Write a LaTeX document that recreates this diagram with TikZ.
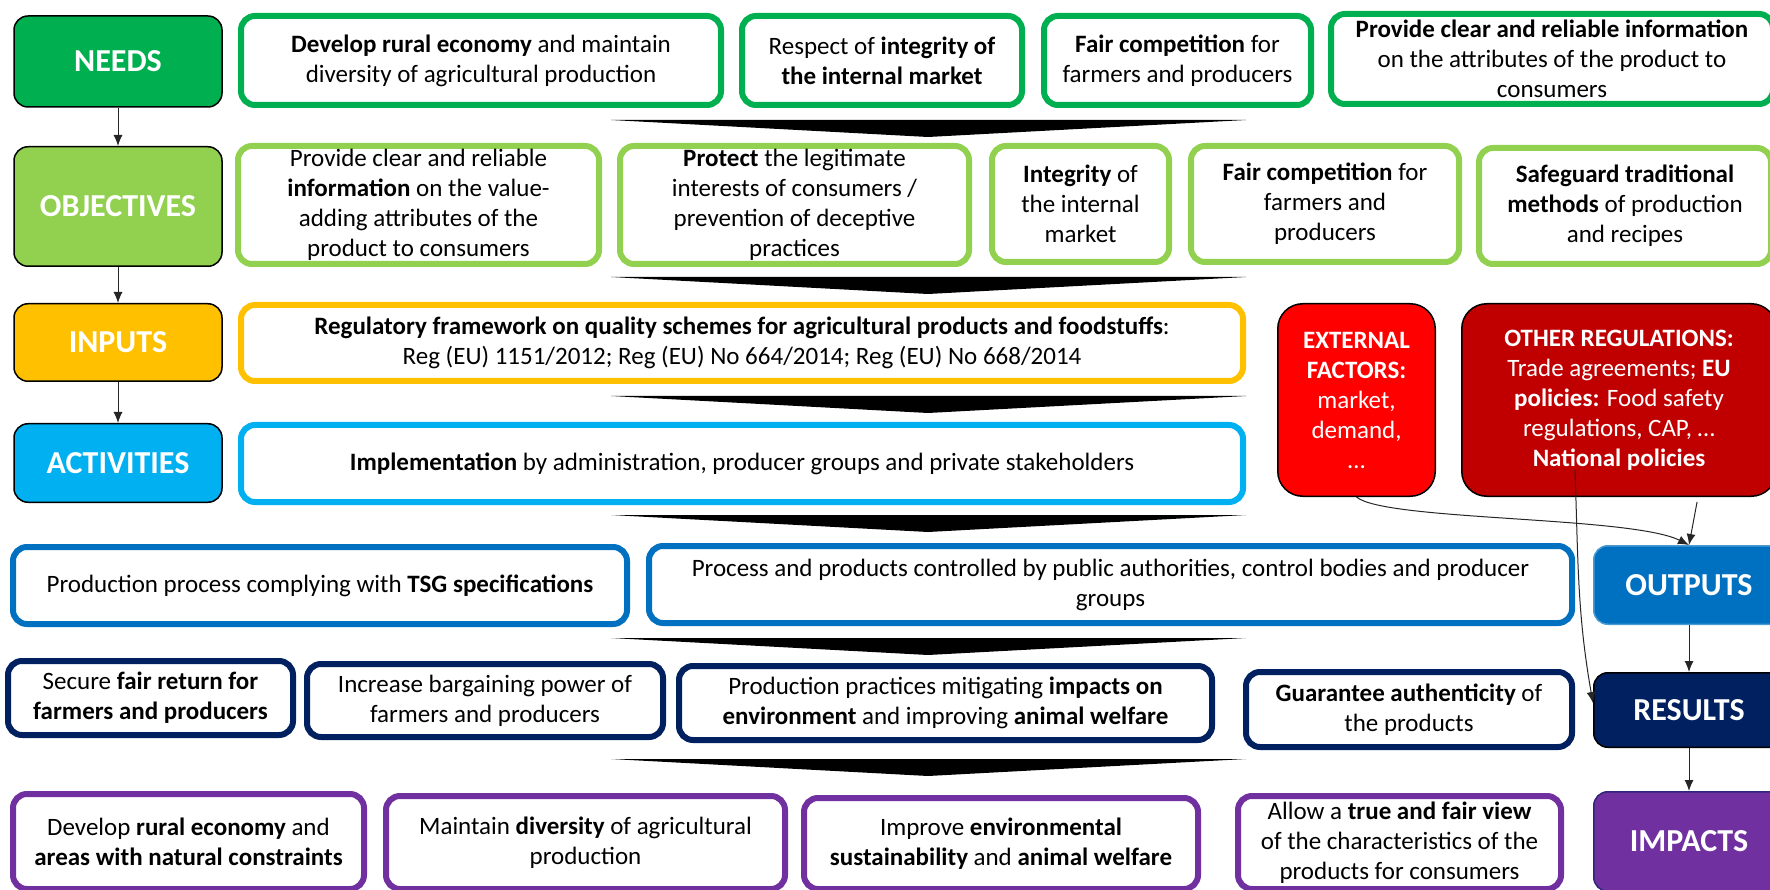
\documentclass[tikz,border=0pt]{standalone}
\usepackage{fontspec}
\setmainfont{Carlito}
\usepackage{tikz}
\usetikzlibrary{arrows.meta}

\definecolor{needsgreen}{HTML}{00B050}
\definecolor{objgreen}{HTML}{92D050}
\definecolor{inputgold}{HTML}{FFC000}
\definecolor{actblue}{HTML}{00B0F0}
\definecolor{outblue}{HTML}{0070C0}
\definecolor{resnavy}{HTML}{002060}
\definecolor{imppurple}{HTML}{7030A0}
\definecolor{extred}{HTML}{FF0000}
\definecolor{regred}{HTML}{C00000}

\newcommand{\bodyfont}{\fontsize{25}{30}\selectfont}
\newcommand{\stagefont}{\fontsize{32}{38}\selectfont\bfseries}

\tikzset{
  stage/.style={fill=#1, draw=black, line width=1.5pt, rounded corners=14pt,
    text=white, font=\stagefont, inner sep=0pt},
  item/.style={fill=white, draw=#1, line width=6pt, rounded corners=14pt,
    align=center, font=\bodyfont, inner sep=0pt},
  factor/.style={fill=#1, draw=black, line width=1.5pt, rounded corners=25pt,
    text=white, align=center, font=\bodyfont, inner sep=0pt},
  link/.style={-{Latex[length=11pt,width=9pt]}, line width=1pt, draw=black!85},
  wedge/.style={fill=black}
}

\begin{document}
\begin{tikzpicture}[x=1pt, y=1pt]
    \useasboundingbox (0,0) rectangle (1770,-890);

    %Needs
    \node[stage=needsgreen, minimum width=208pt, minimum height=91pt] (needs) at (118,-61.5) {NEEDS};
    \node[item=needsgreen, minimum width=480pt, minimum height=89pt] (n1) at (481,-60.5)
        {\textbf{Develop rural economy} and maintain\\ diversity of agricultural production};
    \node[item=needsgreen, minimum width=280pt, minimum height=89pt] (n2) at (882,-60.5)
        {Respect of \textbf{integrity of}\\ \textbf{the internal market}};
    \node[item=needsgreen, minimum width=267pt, minimum height=89pt] (n3) at (1177.5,-60.5)
        {\textbf{Fair competition} for\\ farmers and producers};
    \node[item=needsgreen, minimum width=442pt, minimum height=90pt] (n4) at (1552,-59)
        {\textbf{Provide clear and reliable information}\\ on the attributes of the product to\\ consumers};

    %Objectives
    \node[stage=objgreen, minimum width=208pt, minimum height=119.5pt] (obj) at (118,-206.5) {OBJECTIVES};
    \node[item=objgreen, minimum width=361pt, minimum height=118pt] (o1) at (418.5,-205)
        {Provide clear and reliable\\ \textbf{information} on the value-\\ adding attributes of the\\ product to consumers};
    \node[item=objgreen, minimum width=349pt, minimum height=118pt] (o2) at (794.5,-205)
        {\textbf{Protect} the legitimate\\ interests of consumers /\\ prevention of deceptive\\ practices};
    \node[item=objgreen, minimum width=177pt, minimum height=116pt] (o3) at (1080.5,-204)
        {\textbf{Integrity} of\\ the internal\\ market};
    \node[item=objgreen, minimum width=268pt, minimum height=116pt] (o4) at (1325,-204)
        {\textbf{Fair competition} for\\ farmers and\\ producers};
    \node[item=objgreen, minimum width=292pt, minimum height=116pt] (o5) at (1625,-206)
        {\textbf{Safeguard traditional}\\ \textbf{methods} of production\\ and recipes};

    %Inputs and activities
    \node[stage=inputgold, minimum width=208pt, minimum height=77.5pt] (inputs) at (118,-342.5) {INPUTS};
    \node[item=inputgold, minimum width=1002pt, minimum height=76pt] (i1) at (742,-343)
        {\textbf{Regulatory framework on quality schemes for agricultural products and foodstuffs}:\\
         Reg (EU) 1151/2012; Reg (EU) No 664/2014; Reg (EU) No 668/2014};
    \node[stage=actblue, minimum width=208pt, minimum height=78.5pt] (act) at (118,-463) {ACTIVITIES};
    \node[item=actblue, minimum width=1002pt, minimum height=77pt] (a1) at (742,-463.5)
        {\textbf{Implementation} by administration, producer groups and private stakeholders};

    %Context
    \node[factor=extred, minimum width=157.5pt, minimum height=192.5pt] (ext) at (1356.5,-400)
        {\textbf{EXTERNAL}\\ \textbf{FACTORS:}\\ market,\\ demand,\\ \dots};
    \node[factor=regred, minimum width=314.5pt, minimum height=192.5pt] (oth) at (1619,-400)
        {\textbf{OTHER REGULATIONS:}\\ Trade agreements; \textbf{EU}\\ \textbf{policies:} Food safety\\ regulations, CAP, \dots\\ \textbf{National policies}};

    %Outputs
    \node[item=outblue, minimum width=614pt, minimum height=77pt] (p1) at (320,-585.5)
        {Production process complying with \textbf{TSG specifications}};
    \node[item=outblue, minimum width=923pt, minimum height=77pt] (p2) at (1110.5,-584.5)
        {Process and products controlled by public authorities, control bodies and producer\\ groups};
    \node[stage=outblue, draw=outblue!70!white, minimum width=190.5pt, minimum height=78.5pt] (outputs) at (1689,-585) {OUTPUTS};

    %Results
    \node[item=resnavy, minimum width=285pt, minimum height=74pt] (r1) at (150.5,-698)
        {Secure \textbf{fair return for}\\ \textbf{farmers and producers}};
    \node[item=resnavy, minimum width=356pt, minimum height=73pt] (r2) at (485,-700.5)
        {Increase bargaining power of\\ farmers and producers};
    \node[item=resnavy, minimum width=533pt, minimum height=74pt] (r3) at (945.5,-703)
        {Production practices mitigating \textbf{impacts on}\\ \textbf{environment} and improving \textbf{animal welfare}};
    \node[item=resnavy, minimum width=326pt, minimum height=75pt] (r4) at (1409,-709.5)
        {\textbf{Guarantee authenticity} of\\ the products};
    \node[stage=resnavy, minimum width=190.5pt, minimum height=74.5pt] (results) at (1689,-710) {RESULTS};

    %Impacts
    \node[item=imppurple, minimum width=351pt, minimum height=95pt] (m1) at (188.5,-841.5)
        {Develop \textbf{rural economy} and\\ \textbf{areas with natural constraints}};
    \node[item=imppurple, minimum width=399pt, minimum height=93pt] (m2) at (585.5,-842.5)
        {Maintain \textbf{diversity} of agricultural\\ production};
    \node[item=imppurple, minimum width=394pt, minimum height=91pt] (m3) at (1001,-843.5)
        {Improve \textbf{environmental}\\ \textbf{sustainability} and \textbf{animal welfare}};
    \node[item=imppurple, minimum width=323pt, minimum height=93pt] (m4) at (1399.5,-842.5)
        {Allow a \textbf{true and fair view}\\ of the characteristics of the\\ products for consumers};
    \node[stage=imppurple, draw=resnavy!60!imppurple, minimum width=190.5pt, minimum height=99.5pt] (impacts) at (1689,-841.5) {IMPACTS};

    %Wedges
    \foreach \t in {120,277,396,515,638,759}
        \fill[wedge] (611,-\t) -- (1246,-\t) -- (928,-\t-17) -- cycle;

    %Lines
    \draw[link] (needs) -- (obj);
    \draw[link] (obj) -- (inputs);
    \draw[link] (inputs) -- (act);
    \draw[link] (outputs) -- (results);
    \draw[link] (results) -- (impacts);
    \draw[link] (ext.south) .. controls +(28,-24) and +(-58,29) .. (outputs.north);
    \draw[link, shorten <=5pt] ([xshift=79pt]oth.south) -- (outputs.north);
    \draw[link] ([xshift=-44pt, yshift=27pt]oth.south) to[out=-88, in=100] ([yshift=7pt]results.west);
\end{tikzpicture}
\end{document}
